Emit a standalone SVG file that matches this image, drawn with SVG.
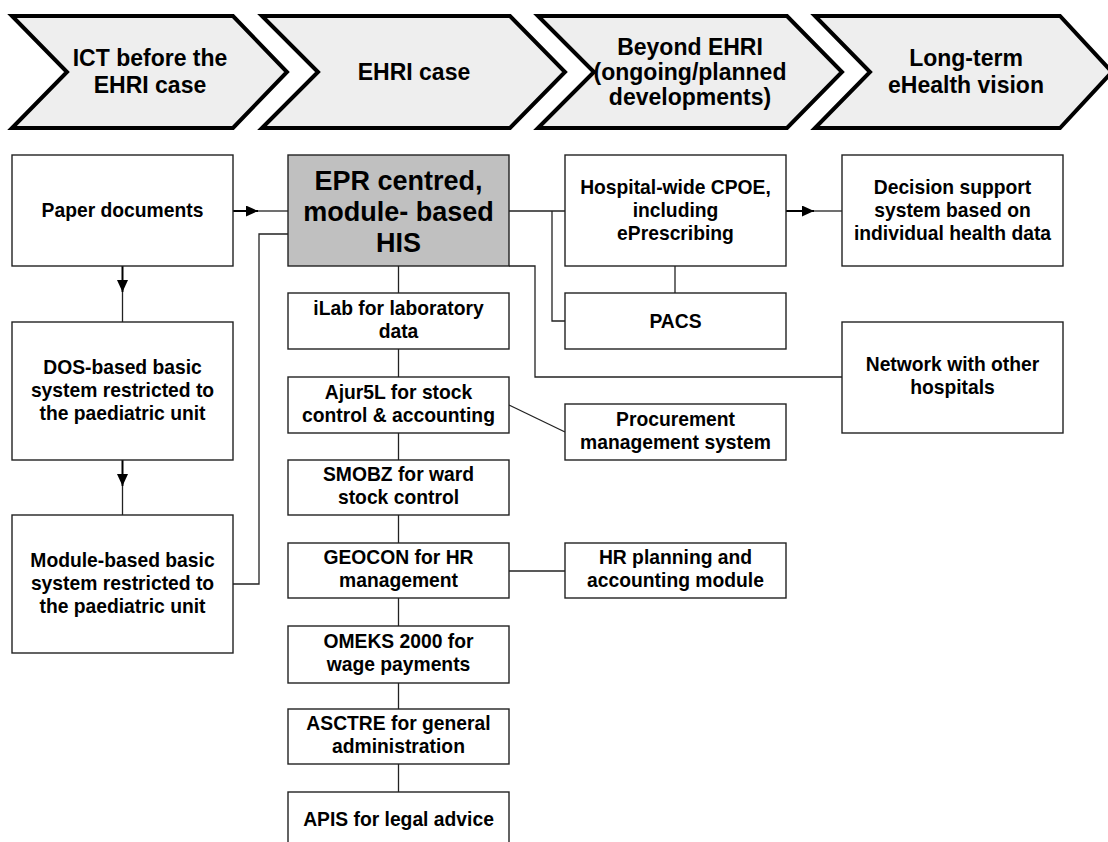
<svg xmlns="http://www.w3.org/2000/svg" width="1108" height="842" viewBox="0 0 1108 842">
  <defs>
    <marker id="arrow" markerUnits="userSpaceOnUse" markerWidth="13" markerHeight="11" refX="12" refY="5.5" orient="auto">
      <path d="M0,0 L12,5.5 L0,11 z" fill="#000"/>
    </marker>
    <style>
      .phase { fill: #eeeeee; stroke: #000; stroke-width: 4; stroke-linejoin: miter; }
      .phase-label { font-family: "Liberation Sans", Arial, sans-serif; font-weight: bold; font-size: 23px; fill: #000; text-anchor: middle; }
      .box { fill: #fff; stroke: #222; stroke-width: 1.4; }
      .box-core { fill: #c0c0c0; stroke: #222; stroke-width: 1.4; }
      .label { font-family: "Liberation Sans", Arial, sans-serif; font-weight: bold; font-size: 19.3px; fill: #000; text-anchor: middle; }
      .label-core { font-family: "Liberation Sans", Arial, sans-serif; font-weight: bold; font-size: 27px; fill: #000; text-anchor: middle; }
      .link { fill: none; stroke: #222; stroke-width: 1.3; }
      .flow { fill: none; stroke: #000; stroke-width: 2; marker-end: url(#arrow); }
    </style>
  </defs>

  <!-- Phase chevrons -->
  <g id="phase-ict">
    <polygon class="phase" points="12,16 233,16 287,72 233,128 12,128 67,72"/>
    <text class="phase-label" x="150" y="66">ICT before the</text>
    <text class="phase-label" x="150" y="93">EHRI case</text>
  </g>
  <g id="phase-ehri">
    <polygon class="phase" points="262,16 510,16 565,72 510,128 262,128 318,72"/>
    <text class="phase-label" x="414" y="80">EHRI case</text>
  </g>
  <g id="phase-beyond">
    <polygon class="phase" points="538,16 787,16 842,72 787,128 538,128 594,72"/>
    <text class="phase-label" x="690" y="55">Beyond EHRI</text>
    <text class="phase-label" x="690" y="80">(ongoing/planned</text>
    <text class="phase-label" x="690" y="105">developments)</text>
  </g>
  <g id="phase-vision">
    <polygon class="phase" points="815,16 1060,16 1112,72 1060,128 815,128 870,72"/>
    <text class="phase-label" x="966" y="66">Long-term</text>
    <text class="phase-label" x="966" y="93">eHealth vision</text>
  </g>

  <!-- Connectors -->
  <g id="connectors">
    <!-- historical sequence -->
    <line class="flow" x1="233" y1="211" x2="258" y2="211"/>
    <line class="link" x1="258" y1="211" x2="288" y2="211"/>
    <line class="flow" x1="122.5" y1="266" x2="122.5" y2="292"/>
    <line class="link" x1="122.5" y1="292" x2="122.5" y2="322"/>
    <line class="flow" x1="122.5" y1="460" x2="122.5" y2="486"/>
    <line class="link" x1="122.5" y1="486" x2="122.5" y2="515"/>
    <polyline class="link" points="233,584 259,584 259,234 288,234"/>

    <!-- HIS to future developments -->
    <line class="link" x1="509" y1="211" x2="565" y2="211"/>
    <polyline class="link" points="552,211 552,321 565,321"/>
    <line class="link" x1="675" y1="266" x2="675" y2="293"/>
    <polyline class="link" points="509,266 535,266 535,377 842,377"/>
    <line class="flow" x1="786" y1="211" x2="814" y2="211"/>
    <line class="link" x1="814" y1="211" x2="842" y2="211"/>

    <!-- module chain -->
    <line class="link" x1="398.5" y1="266" x2="398.5" y2="792"/>
    <line class="link" x1="509" y1="405" x2="565" y2="432"/>
    <line class="link" x1="509" y1="571" x2="565" y2="571"/>
  </g>

  <!-- Before EHRI -->
  <g id="paper-documents">
    <rect class="box" x="12" y="155" width="221" height="111"/>
    <text class="label" x="122.5" y="217">Paper documents</text>
  </g>
  <g id="dos-system">
    <rect class="box" x="12" y="322" width="221" height="138"/>
    <text class="label" x="122.5" y="374">DOS-based basic</text>
    <text class="label" x="122.5" y="397">system restricted to</text>
    <text class="label" x="122.5" y="420">the paediatric unit</text>
  </g>
  <g id="module-system">
    <rect class="box" x="12" y="515" width="221" height="138"/>
    <text class="label" x="122.5" y="567">Module-based basic</text>
    <text class="label" x="122.5" y="590">system restricted to</text>
    <text class="label" x="122.5" y="613">the paediatric unit</text>
  </g>

  <!-- EHRI core -->
  <g id="his">
    <rect class="box-core" x="288" y="155" width="221" height="111"/>
    <text class="label-core" x="398.5" y="190">EPR centred,</text>
    <text class="label-core" x="398.5" y="221">module- based</text>
    <text class="label-core" x="398.5" y="252">HIS</text>
  </g>
  <g id="ilab">
    <rect class="box" x="288" y="293" width="221" height="56"/>
    <text class="label" x="398.5" y="315">iLab for laboratory</text>
    <text class="label" x="398.5" y="338">data</text>
  </g>
  <g id="ajur5l">
    <rect class="box" x="288" y="377" width="221" height="56"/>
    <text class="label" x="398.5" y="399">Ajur5L for stock</text>
    <text class="label" x="398.5" y="422">control &amp; accounting</text>
  </g>
  <g id="smobz">
    <rect class="box" x="288" y="460" width="221" height="55"/>
    <text class="label" x="398.5" y="481">SMOBZ for ward</text>
    <text class="label" x="398.5" y="504">stock control</text>
  </g>
  <g id="geocon">
    <rect class="box" x="288" y="543" width="221" height="55"/>
    <text class="label" x="398.5" y="564">GEOCON for HR</text>
    <text class="label" x="398.5" y="587">management</text>
  </g>
  <g id="omeks">
    <rect class="box" x="288" y="626" width="221" height="57"/>
    <text class="label" x="398.5" y="648">OMEKS 2000 for</text>
    <text class="label" x="398.5" y="671">wage payments</text>
  </g>
  <g id="asctre">
    <rect class="box" x="288" y="709" width="221" height="55"/>
    <text class="label" x="398.5" y="730">ASCTRE for general</text>
    <text class="label" x="398.5" y="753">administration</text>
  </g>
  <g id="apis">
    <rect class="box" x="288" y="792" width="221" height="60"/>
    <text class="label" x="398.5" y="826">APIS for legal advice</text>
  </g>

  <!-- Beyond EHRI -->
  <g id="cpoe">
    <rect class="box" x="565" y="155" width="221" height="111"/>
    <text class="label" x="675.5" y="194">Hospital-wide CPOE,</text>
    <text class="label" x="675.5" y="217">including</text>
    <text class="label" x="675.5" y="240">ePrescribing</text>
  </g>
  <g id="pacs">
    <rect class="box" x="565" y="293" width="221" height="56"/>
    <text class="label" x="675.5" y="328">PACS</text>
  </g>
  <g id="procurement">
    <rect class="box" x="565" y="404" width="221" height="56"/>
    <text class="label" x="675.5" y="426">Procurement</text>
    <text class="label" x="675.5" y="449">management system</text>
  </g>
  <g id="hr-planning">
    <rect class="box" x="565" y="543" width="221" height="55"/>
    <text class="label" x="675.5" y="564">HR planning and</text>
    <text class="label" x="675.5" y="587">accounting module</text>
  </g>

  <!-- Long-term vision -->
  <g id="decision-support">
    <rect class="box" x="842" y="155" width="221" height="111"/>
    <text class="label" x="952.5" y="194">Decision support</text>
    <text class="label" x="952.5" y="217">system based on</text>
    <text class="label" x="952.5" y="240">individual health data</text>
  </g>
  <g id="network">
    <rect class="box" x="842" y="322" width="221" height="111"/>
    <text class="label" x="952.5" y="371">Network with other</text>
    <text class="label" x="952.5" y="394">hospitals</text>
  </g>
</svg>
